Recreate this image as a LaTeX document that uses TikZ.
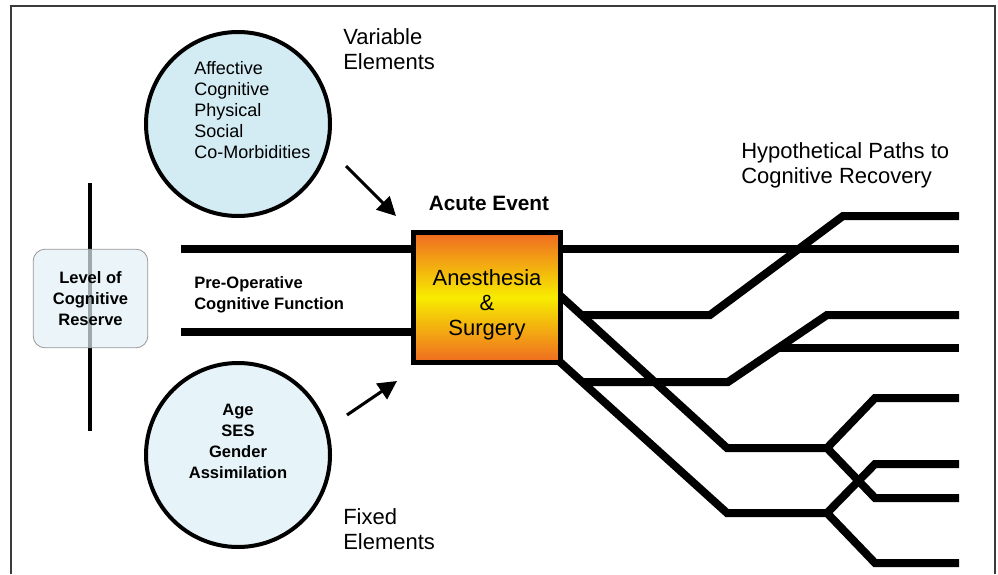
\documentclass[tikz,border=0pt]{standalone}
\usepackage{fontspec}
\setmainfont{Liberation Sans}
\usetikzlibrary{arrows.meta,shapes.geometric}
\definecolor{circA}{HTML}{D3ECF3}
\definecolor{circB}{HTML}{E6F3F8}
\definecolor{lvlfill}{HTML}{E2F1F6}
\definecolor{orng}{HTML}{EF6A22}
\definecolor{yllw}{HTML}{F7EC00}
\definecolor{framec}{HTML}{3A3A3A}
\tikzset{
  circ/.style={circle,draw=black,line width=3pt,minimum size=138pt,inner sep=0pt},
  reg/.style={font=\fontsize{13.5}{15.75}\selectfont,inner sep=0pt},
  bld/.style={font=\bfseries\fontsize{12.4}{15.75}\selectfont,inner sep=0pt},
  big/.style={font=\fontsize{16.5}{18.75}\selectfont,inner sep=0pt,align=left},
  path/.style={line width=6pt,line join=miter,line cap=butt},
  arr/.style={line width=2.3pt,-{Triangle[length=14pt,width=14pt]}},
}
\begin{document}
\begin{tikzpicture}[x=0.75pt,y=-0.75pt]
\useasboundingbox (0,0) rectangle (998,574);
% frame
\draw[framec,line width=1.1pt] (11,574) -- (11,6) -- (995,6) -- (995,574);

% vertical reserve line
\coordinate (vt) at (90,183);
\coordinate (vb) at (90,431);
\draw[line width=3pt] (vt) -- (vb);

% level of cognitive reserve box
\node[draw=gray!80,line width=0.6pt,fill=lvlfill,fill opacity=0.7,text opacity=1,rounded corners=9pt,
      minimum width=86pt,minimum height=74pt,inner sep=0pt,
      bld,align=center] (lvl) at (90.5,298.5) {Level of\\Cognitive\\Reserve};

% circles
\node[circ,fill=circA] (varc) at (238,124) {};
\node[reg,align=left,anchor=west] (vartxt) at (194,110.5) {Affective\\Cognitive\\Physical\\Social\\Co-Morbidities};
\node[circ,fill=circB] (fixc) at (238,455) {};
\node[bld,align=center] (fixtxt) at (238,441.5) {Age\\SES\\Gender\\Assimilation};

% labels
\node[big,anchor=west] (varlbl) at (343,49.5) {Variable\\Elements};
\node[big,anchor=west] (fixlbl) at (343,529.5) {Fixed\\Elements};
\node[big,anchor=west] (hyplbl) at (741,165.5) {Hypothetical Paths to\\Cognitive Recovery};
\node[font=\bfseries\fontsize{15.6}{18}\selectfont,inner sep=0pt] (acute) at (489,203) {Acute Event};
\node[bld,align=left,anchor=west] (preop) at (194,294.5) {Pre-Operative\\Cognitive Function};

% arrows
\coordinate (a1s) at (346,166);
\coordinate (a1e) at (396,216);
\coordinate (a2s) at (347,415);
\coordinate (a2e) at (397,381);
\draw[arr] (a1s) -- (a1e);
\draw[arr] (a2s) -- (a2e);

% pre-op lines
\coordinate (p1s) at (181,249);
\coordinate (p1e) at (414,249);
\coordinate (p2s) at (181,332);
\coordinate (p2e) at (414,332);
\draw[path] (p1s) -- (p1e);
\draw[path] (p2s) -- (p2e);

% recovery paths
\draw[path] (560,249) -- (959,249);
\draw[path] (582,315) -- (710,315) -- (843,216) -- (959,216);
\draw[path] (560,295.5) -- (727,448) -- (827,448) -- (875,398) -- (959,398);
\draw[path] (827,448) -- (875,498) -- (959,498);
\draw[path] (560,362) -- (727,513) -- (827,513) -- (875,464) -- (959,464);
\draw[path] (827,513) -- (875,563) -- (959,563);
\draw[path] (582,382) -- (728,382) -- (827,315) -- (959,315);
\draw[path] (778,348) -- (959,348);

% central box
\node[draw=black,line width=3.75pt,minimum width=110.25pt,minimum height=97.5pt,inner sep=0pt,
      top color=orng,bottom color=orng,middle color=yllw] (box) at (487,297.5) {};
\node[font=\fontsize{16.5}{18.75}\selectfont,align=center,inner sep=0pt] (boxtxt) at (487,305) {Anesthesia\\\&\\Surgery};
\end{tikzpicture}
\end{document}
